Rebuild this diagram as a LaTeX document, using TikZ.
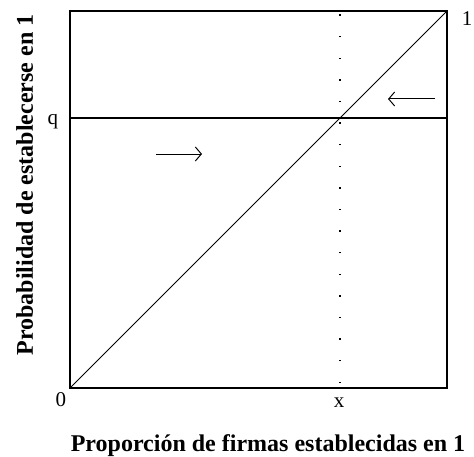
\documentclass[tikz,border=0pt]{standalone}
\usepackage{fontspec}
\setmainfont{Liberation Serif}
\usetikzlibrary{arrows.meta}

\begin{document}
\begin{tikzpicture}[x=1pt, y=1pt, lbl/.style={font=\fontsize{21}{25}\selectfont}, axlbl/.style={font=\fontsize{24}{28}\selectfont\bfseries}, arr/.style={draw,line width=1pt,-{Straight Barb[length=6pt,width=14pt]}}]
  \useasboundingbox (-70,-68) rectangle (404,388);
  \coordinate (o)  at (0,0);
  \coordinate (c)  at (377,377);
  \coordinate (ql) at (0,270);
  \coordinate (qr) at (377,270);
  \coordinate (xb) at (270,5);
  \coordinate (xt) at (270,377);

  \draw[line width=1.4pt] (o) rectangle (c);
  \draw[line width=0.9pt] (o) -- (c);
  \draw[line width=1.2pt] (ql) -- (qr);
  \draw[line width=1.4pt,dash pattern=on 1.4pt off 20.2pt] (xb) -- (xt);

  \coordinate (r1) at (86,234);  \coordinate (r2) at (132,234);
  \coordinate (l1) at (365,289); \coordinate (l2) at (318,289);
  \draw[arr] (r1) -- (r2);
  \draw[arr] (l1) -- (l2);

  \node[lbl] (zero) at (-9,-12)  {0};
  \node[lbl] (one)  at (397,369) {1};
  \node[lbl] (q)    at (-17,266) {q};
  \node[lbl] (x)    at (269,-15) {x};

  \node[axlbl,anchor=base]          (xlab) at (198,-63) {Proporción de firmas establecidas en 1};
  \node[axlbl,anchor=base,rotate=90] (ylab) at (-37,203) {Probabilidad de establecerse en 1};
\end{tikzpicture}
\end{document}
